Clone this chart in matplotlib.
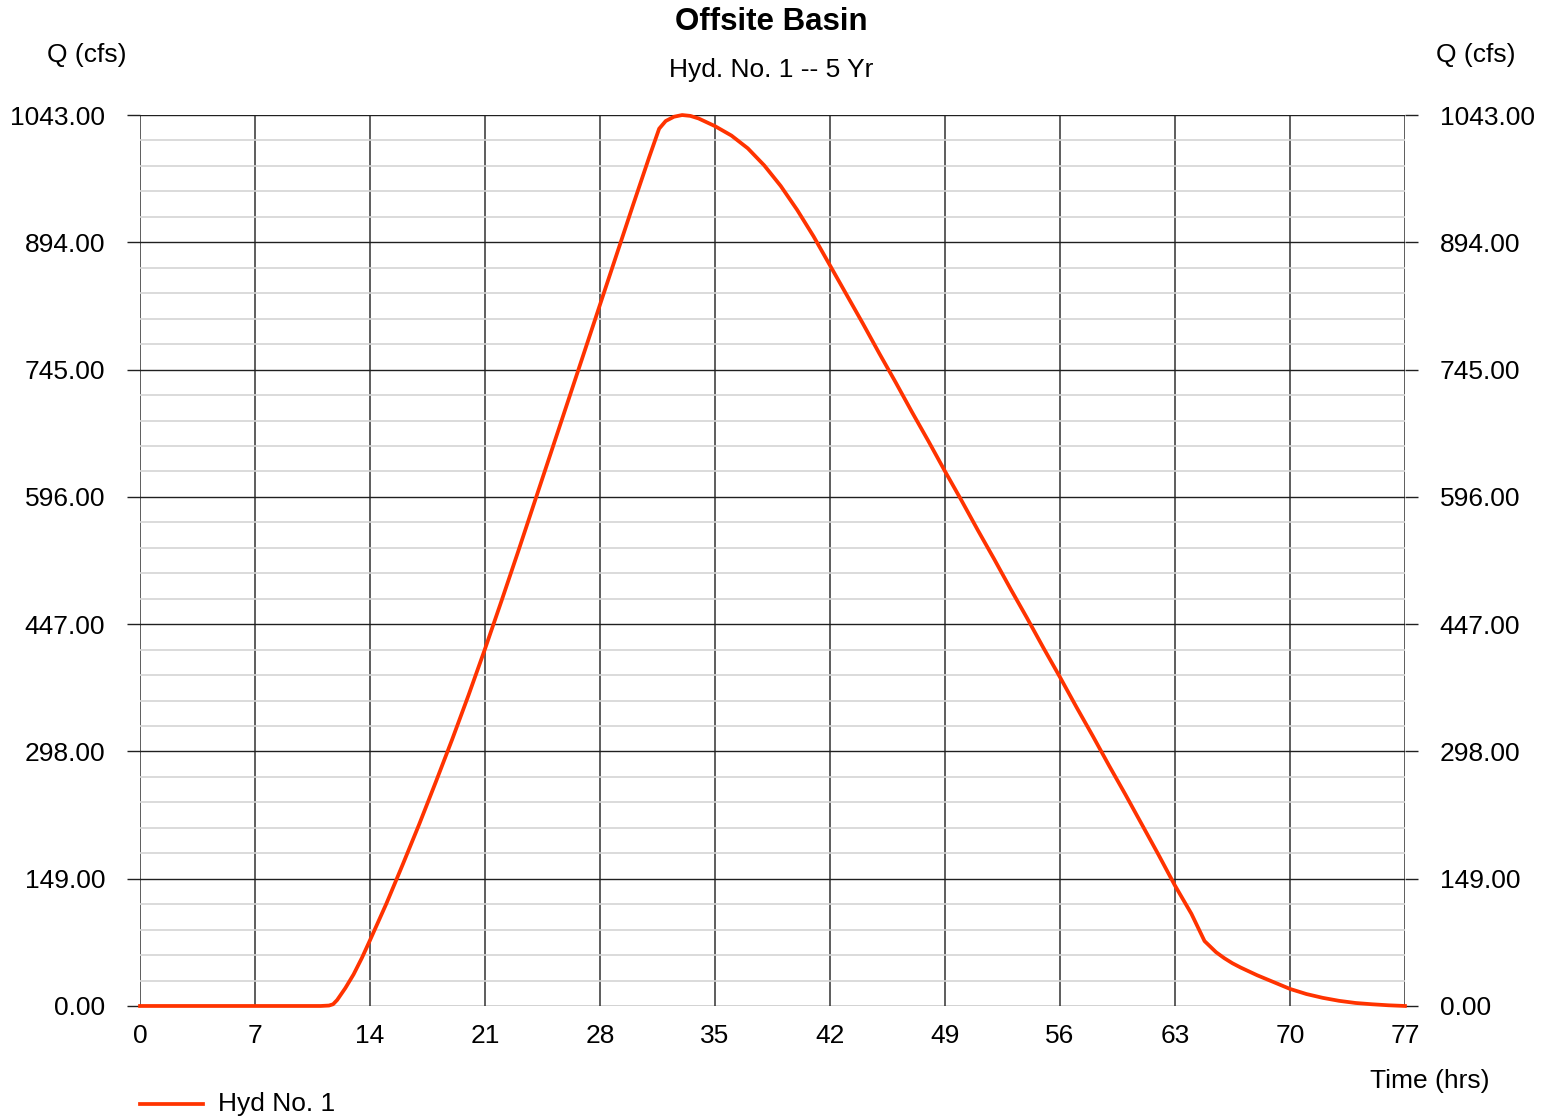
import numpy as np
import matplotlib.pyplot as plt
from matplotlib.ticker import MultipleLocator, FixedLocator

plt.rcParams['font.family'] = ['Liberation Sans', 'DejaVu Sans']

# hydrograph ordinates, Hyd No. 1 (5 yr)
time_hrs = [0, 2, 4, 6, 8, 10, 11, 11.5, 11.75, 12, 12.5, 13, 13.5, 14, 15,
            16, 17, 18, 19, 20, 21, 22, 23, 24, 25, 26, 27, 28, 29, 30, 31,
            31.6, 32, 32.5, 33, 33.5, 34, 35, 36, 37, 38, 39, 40, 41, 42, 43,
            44, 45, 46, 47, 48, 49, 50, 51, 52, 53, 54, 55, 56, 57, 58, 59,
            60, 61, 62, 63, 64, 64.8, 65.5, 66, 66.5, 67, 68, 69, 70, 71, 72,
            73, 74, 75, 76, 77]
flow_cfs = [0, 0, 0, 0, 0, 0, 0, 0.5, 2, 7, 21, 37, 56, 77, 120,
            166, 213, 262, 312, 364, 418, 474, 531, 589, 647, 705, 763, 821,
            879, 937, 994, 1027, 1036, 1041, 1043, 1042, 1039, 1030, 1019,
            1004, 984, 960, 932, 901, 867, 833, 799, 764, 730, 695, 661, 626,
            592, 557, 523, 488, 454, 419, 385, 350, 316, 281, 247, 212, 177,
            141, 108, 76, 63, 56, 50, 45, 36, 28, 20, 14, 9.5, 6, 3.5, 2, 0.8, 0]

x_ticks = [0, 7, 14, 21, 28, 35, 42, 49, 56, 63, 70, 77]
y_ticks = [0, 149, 298, 447, 596, 745, 894, 1043]

fig = plt.figure(figsize=(15.49, 11.18), dpi=100)
ax = fig.add_axes([0.0904, 0.1002, 0.8166, 0.7969])

ax.set_xlim(0, 77)
ax.set_ylim(0, 1043)
for s in ax.spines.values():
    s.set_visible(False)

ax.xaxis.set_major_locator(FixedLocator(x_ticks))
ax.yaxis.set_major_locator(FixedLocator(y_ticks))
ax.yaxis.set_minor_locator(MultipleLocator(149 / 5))
ax.set_yticklabels([f"{v:.2f}" for v in y_ticks])

ax.grid(axis='x', which='major', color='#505050', linewidth=1.3)
ax.grid(axis='y', which='major', color='#202020', linewidth=1.0)
ax.grid(axis='y', which='minor', color='#d4d4d4', linewidth=1.2)
ax.set_axisbelow(True)

ax.tick_params(axis='y', which='major', direction='out', length=9.5, width=1.0,
               color='#202020', left=True, right=True, labelleft=True,
               labelright=True, labelsize=19, pad=15.5)
ax.tick_params(axis='y', which='minor', length=0)
ax.tick_params(axis='x', which='major', length=0, labelsize=19, pad=13)

ax.plot(time_hrs, flow_cfs, color='#ff3300', linewidth=2.7,
        solid_joinstyle='round', clip_on=False, zorder=3)

fig.text(0.498, 0.980, "Offsite Basin", ha='center', va='center',
         fontsize=22.5, fontweight='bold')
fig.text(0.498, 0.937, "Hyd. No. 1 -- 5 Yr", ha='center', va='center',
         fontsize=19)
fig.text(0.056, 0.951, "Q (cfs)", ha='center', va='center', fontsize=19)
fig.text(0.953, 0.951, "Q (cfs)", ha='center', va='center', fontsize=19)
fig.text(0.923, 0.033, "Time (hrs)", ha='center', va='center', fontsize=19)

# legend entry below the axes
fig.add_artist(plt.Line2D([0.0904, 0.131], [0.0125, 0.0125], color='#ff3300',
                          linewidth=2.7))
fig.text(0.141, 0.0125, "Hyd No. 1", ha='left', va='center', fontsize=19)

fig.savefig("out.png", dpi=100)
